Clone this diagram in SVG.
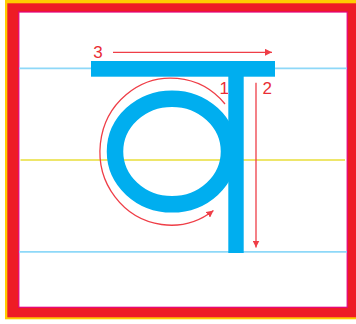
<svg xmlns="http://www.w3.org/2000/svg" width="356" height="324" viewBox="0 0 356 324">
  <style>
    .guide-blue { stroke: #8ED8F8; stroke-width: 1.7; fill: none; }
    .guide-yellow { stroke: #EEE66A; stroke-width: 2; fill: none; }
    .glyph { fill: #00AEEF; }
    .ring { fill: none; stroke: #00AEEF; stroke-width: 16.5; }
    .arrow { fill: none; stroke: #EF3E47; stroke-width: 1.3; }
    .num { font-family: "Liberation Sans", Arial, sans-serif; font-size: 17px; fill: #E92D35; text-anchor: middle; }
  </style>
  <defs>
    <marker id="ah" viewBox="0 0 10 10" refX="10" refY="5" markerWidth="7" markerHeight="7" markerUnits="userSpaceOnUse" orient="auto">
      <path d="M0,0 L10,5 L0,10 Z" fill="#EF3E47"/>
    </marker>
  </defs>

  <g id="frame">
    <rect x="5" y="0" width="351" height="319.3" fill="#FFCC00"/>
    <rect x="7.3" y="3.3" width="348.7" height="314" fill="#EE1C25"/>
    <rect x="18.8" y="12" width="328.4" height="295.3" fill="#FFFFFF" stroke="#E4007C" stroke-width="1.2"/>
  </g>

  <g id="guides">
    <line class="guide-blue" x1="19" y1="68.3" x2="347" y2="68.3"/>
    <line class="guide-yellow" x1="20.5" y1="160" x2="345" y2="160"/>
    <line class="guide-blue" x1="19" y1="251.8" x2="347" y2="251.8"/>
  </g>

  <g id="letter">
    <rect class="glyph" x="91" y="61" width="184" height="15.7"/>
    <ellipse class="ring" cx="172" cy="151.5" rx="57" ry="52.8"/>
    <rect class="glyph" x="228.3" y="76" width="15.4" height="177"/>
  </g>

  <g id="connectors">
    <path id="stroke1" class="arrow" d="M225,104 A71,73.5 0 1 0 213.5,210.5" marker-end="url(#ah)"/>
    <line id="stroke2" class="arrow" x1="256" y1="82.7" x2="256" y2="247.5" marker-end="url(#ah)"/>
    <line id="stroke3" class="arrow" x1="113" y1="52.3" x2="272" y2="52.3" marker-end="url(#ah)"/>
  </g>

  <g id="labels">
    <text class="num" x="224.2" y="94">1</text>
    <text class="num" x="267.3" y="94">2</text>
    <text class="num" x="98" y="58">3</text>
  </g>
</svg>
